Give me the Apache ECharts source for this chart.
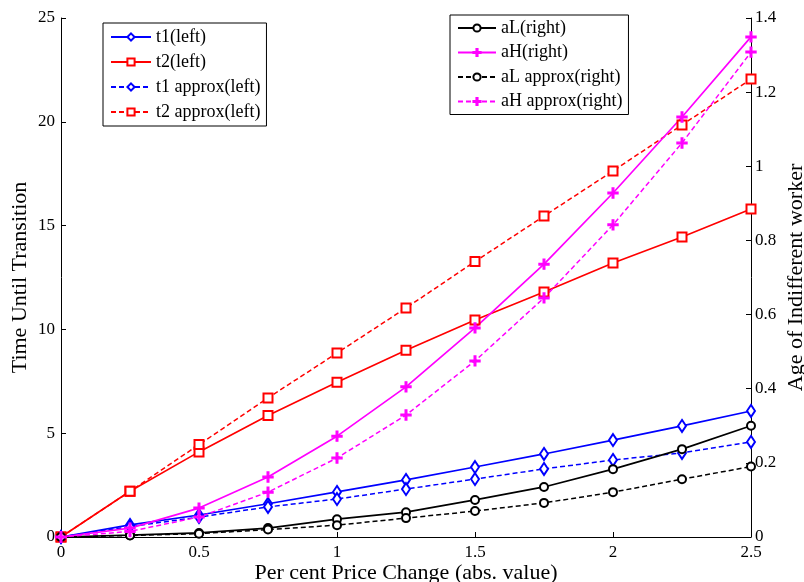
<!DOCTYPE html>
<html>
<head>
<meta charset="utf-8">
<script src="https://cdn.jsdelivr.net/npm/echarts@6/dist/echarts.min.js"></script>
<style>html,body{margin:0;padding:0;background:#fff}#c{width:804px;height:582px}</style>
</head>
<body>
<div id="c"></div>
<script>
const xValues = [0, 0.25, 0.5, 0.75, 1.0, 1.25, 1.5, 1.75, 2.0, 2.25, 2.5];
// left axis series
const t1 = [0, 0.58, 1.06, 1.6, 2.17, 2.75, 3.37, 4.0, 4.67, 5.35, 6.07];
const t2 = [0, 2.2, 4.1, 5.85, 7.45, 9.0, 10.45, 11.8, 13.2, 14.45, 15.8];
const t1Approx = [0, 0.5, 0.96, 1.45, 1.83, 2.31, 2.79, 3.28, 3.71, 4.05, 4.58];
const t2Approx = [0, 2.2, 4.45, 6.7, 8.86, 11.03, 13.27, 15.46, 17.63, 19.85, 22.06];
// right axis series
const aL = [0, 0.005, 0.011, 0.024, 0.048, 0.067, 0.1, 0.135, 0.183, 0.237, 0.3];
const aH = [0, 0.024, 0.078, 0.162, 0.272, 0.405, 0.564, 0.736, 0.928, 1.133, 1.349];
const aLApprox = [0, 0.004, 0.009, 0.02, 0.032, 0.051, 0.07, 0.092, 0.121, 0.156, 0.19];
const aHApprox = [0, 0.015, 0.054, 0.121, 0.213, 0.329, 0.475, 0.645, 0.842, 1.063, 1.308];
const xTicks = [0, 0.5, 1, 1.5, 2, 2.5];
const leftNames = ['t1(left)', 't2(left)', 't1 approx(left)', 't2 approx(left)'];
const rightNames = ['aL(right)', 'aH(right)', 'aL approx(right)', 'aH approx(right)'];

const FONT = 'Liberation Serif';
const PLUS = 'path://M4.2,0h1.6v4.2h4.2v1.6h-4.2v4.2h-1.6v-4.2h-4.2v-1.6h4.2z';
const pair = ys => xValues.map((x, i) => [x, ys[i]]);

function mk(name, ys, yIdx, color, dashed, symbol, size) {
  return {
    name, type: 'line', yAxisIndex: yIdx, data: pair(ys),
    symbol, symbolSize: size, showAllSymbol: true,
    lineStyle: { color, width: dashed ? 1.5 : 1.7, type: dashed ? [5, 3] : 'solid' },
    itemStyle: { color, borderColor: color, borderWidth: 1.4 },
    emphasis: { disabled: true }, animation: false
  };
}

const chart = echarts.init(document.getElementById('c'), null, { renderer: 'canvas' });
const axisCommon = {
  axisLine: { show: true, lineStyle: { color: '#000', width: 1 } },
  axisTick: { show: true, inside: true, length: 5, lineStyle: { color: '#000' } },
  splitLine: { show: false },
  nameMoveOverlap: false,
  axisLabel: { color: '#000', fontFamily: FONT, fontSize: 17 },
  nameTextStyle: { color: '#000', fontFamily: FONT, fontSize: 22 }
};
const legendCommon = {
  orient: 'vertical', show: true,
  backgroundColor: '#fff', borderColor: '#000', borderWidth: 1,
  itemWidth: 40, itemHeight: 9, itemGap: 7,
  textStyle: { color: '#000', fontFamily: FONT, fontSize: 18 },
  selectedMode: false
};
chart.setOption({
  animation: false,
  grid: { left: 61, right: 53, top: 18, bottom: 45, containLabel: false, outerBoundsMode: 'none' },
  legend: [
    Object.assign({}, legendCommon, { data: leftNames, left: 103, top: 23, padding: [5, 6, 5, 7] }),
    Object.assign({}, legendCommon, { data: rightNames, left: 450, top: 15, padding: [4, 6, 4, 7], itemWidth: 38, itemGap: 6.5 })
  ],
  xAxis: Object.assign({}, axisCommon, {
    type: 'value', min: 0, max: 2.5, interval: 0.5,
    name: 'Per cent Price Change (abs. value)', nameLocation: 'middle', nameGap: 25,
    axisLabel: Object.assign({}, axisCommon.axisLabel, { margin: 7, formatter: v => xTicks.includes(v) ? String(v) : '' })
  }),
  yAxis: [
    Object.assign({}, axisCommon, {
      type: 'value', min: 0, max: 25, interval: 5, position: 'left',
      name: 'Time Until Transition', nameLocation: 'middle', nameGap: 30,
      axisLabel: Object.assign({}, axisCommon.axisLabel, { margin: 6 })
    }),
    Object.assign({}, axisCommon, {
      type: 'value', min: 0, max: 1.4, interval: 0.2, position: 'right',
      name: 'Age of Indifferent worker', nameLocation: 'middle', nameGap: 34,
      axisLabel: Object.assign({}, axisCommon.axisLabel, { margin: 4, formatter: v => String(Math.round(v * 10) / 10) })
    })
  ],
  series: [
    mk('t1(left)', t1, 0, '#0000ff', false, 'emptyDiamond', [8, 12]),
    mk('t2(left)', t2, 0, '#ff0000', false, 'emptyRect', 9),
    mk('t1 approx(left)', t1Approx, 0, '#0000ff', true, 'emptyDiamond', [8, 12]),
    mk('t2 approx(left)', t2Approx, 0, '#ff0000', true, 'emptyRect', 9),
    mk('aL(right)', aL, 1, '#000000', false, 'emptyCircle', 8),
    mk('aH(right)', aH, 1, '#ff00ff', false, PLUS, 10),
    mk('aL approx(right)', aLApprox, 1, '#000000', true, 'emptyCircle', 8),
    mk('aH approx(right)', aHApprox, 1, '#ff00ff', true, PLUS, 10)
  ]
});
</script>
</body>
</html>
